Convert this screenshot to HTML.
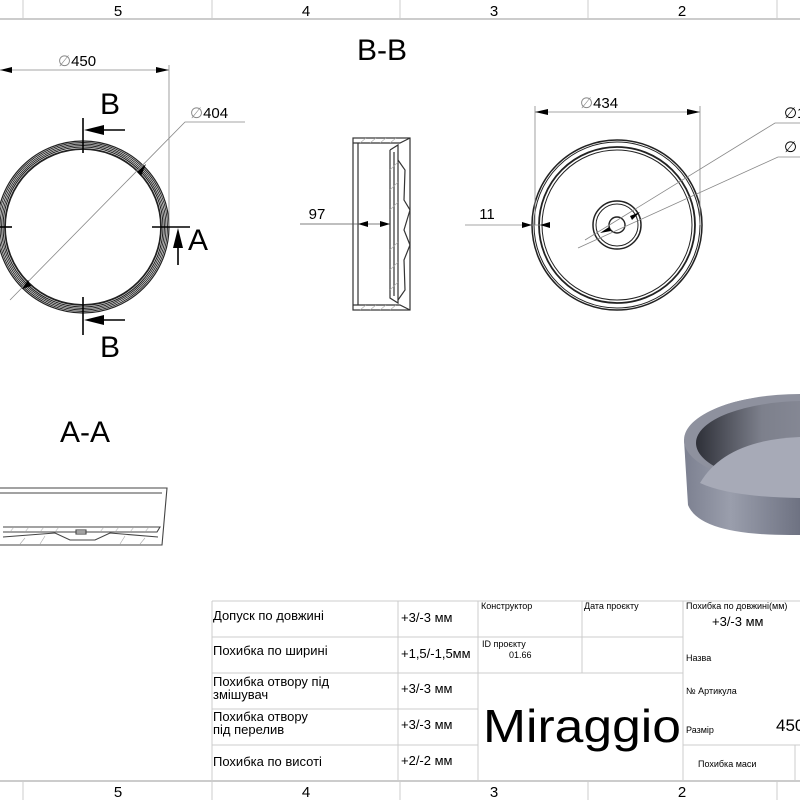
<!DOCTYPE html>
<html><head><meta charset="utf-8"><style>
html,body{margin:0;padding:0;background:#fff}
svg{display:block}
text{font-family:"Liberation Sans",sans-serif;fill:#000}
</style></head><body>
<svg width="800" height="800" viewBox="0 0 800 800" xmlns="http://www.w3.org/2000/svg">
<defs>
<linearGradient id="body" x1="0" x2="1" y1="0" y2="0">
<stop offset="0" stop-color="#7c8090"/><stop offset="0.4" stop-color="#9a9eac"/><stop offset="1" stop-color="#6e7282"/>
</linearGradient>
<linearGradient id="inner" x1="0" x2="1"><stop offset="0" stop-color="#2e3038"/><stop offset="0.3" stop-color="#7d808c"/><stop offset="1" stop-color="#9a9dab"/></linearGradient>
</defs>
<g stroke="#bbb" stroke-width="1.5" fill="none">
<line x1="0" y1="19" x2="800" y2="19"/>
<line x1="0" y1="781" x2="800" y2="781"/>
</g>
<g stroke="#ccc" stroke-width="1">
<line x1="23" y1="0" x2="23" y2="19"/><line x1="212" y1="0" x2="212" y2="19"/><line x1="400" y1="0" x2="400" y2="19"/><line x1="588" y1="0" x2="588" y2="19"/><line x1="777" y1="0" x2="777" y2="19"/>
<line x1="23" y1="781" x2="23" y2="800"/><line x1="212" y1="781" x2="212" y2="800"/><line x1="400" y1="781" x2="400" y2="800"/><line x1="588" y1="781" x2="588" y2="800"/><line x1="777" y1="781" x2="777" y2="800"/>
</g>
<g font-size="15" text-anchor="middle">
<text x="118" y="16">5</text><text x="306" y="16">4</text><text x="494" y="16">3</text><text x="682" y="16">2</text>
<text x="118" y="797">5</text><text x="306" y="797">4</text><text x="494" y="797">3</text><text x="682" y="797">2</text>
</g>

<!-- LEFT TOP VIEW -->
<g fill="none" stroke="#222">
<circle cx="83" cy="227" r="86" stroke-width="1.2"/>
<circle cx="83" cy="227" r="84.5" stroke-width="0.9"/>
<circle cx="83" cy="227" r="83" stroke-width="0.9"/>
<circle cx="83" cy="227" r="81.5" stroke-width="0.9"/>
<circle cx="83" cy="227" r="80" stroke-width="1.1"/>
<circle cx="83" cy="227" r="78" stroke-width="1.8"/>
</g>
<g stroke="#888" stroke-width="0.8" fill="none">
<line x1="0" y1="70" x2="169" y2="70"/>
<line x1="169" y1="65" x2="169" y2="227"/>
<polyline points="10,300 185,122 245,122"/>
</g>
<polygon points="169,70 156,67 156,73" fill="#000"/>
<polygon points="0,70 12,67 12,73" fill="#000"/>
<polygon points="22,289 28,280 31,286" fill="#000"/>
<polygon points="146,164 137,172 141,176" fill="#000"/>
<text x="58" y="66" font-size="15"><tspan fill="#888">∅</tspan>450</text>
<text x="190" y="118" font-size="15"><tspan fill="#888">∅</tspan>404</text>
<g stroke="#000" stroke-width="1.6">
<line x1="83" y1="118" x2="83" y2="153"/><line x1="83" y1="297" x2="83" y2="335"/>
<line x1="88" y1="130" x2="125" y2="130"/><line x1="88" y1="320" x2="125" y2="320"/>
<line x1="152" y1="227" x2="190" y2="227"/><line x1="178" y1="232" x2="178" y2="265"/>
<line x1="0" y1="227" x2="12" y2="227"/>
</g>
<polygon points="84,130 104,125 104,135" fill="#000"/>
<polygon points="84,320 104,315 104,325" fill="#000"/>
<polygon points="178,228 173,248 183,248" fill="#000"/>
<text x="110" y="114" font-size="30" text-anchor="middle">B</text>
<text x="110" y="357" font-size="30" text-anchor="middle">B</text>
<text x="198" y="250" font-size="30" text-anchor="middle">A</text>

<!-- B-B section -->
<text x="382" y="60" font-size="30" text-anchor="middle">B-B</text>
<g fill="none" stroke="#333" stroke-width="1.2">
<rect x="353" y="138" width="57" height="172"/>
<line x1="358" y1="143" x2="358" y2="305"/>
<polyline points="353,143 400,143 410,138"/>
<polyline points="353,305 400,305 410,310"/>
<polyline points="390,150 398,145 398,303 390,298 390,150"/>
<polyline points="398,160 405,170 404,200 410,210 404,230 410,245 404,260 405,290 398,300"/>
<line x1="394" y1="152" x2="394" y2="296"/>
</g>
<g stroke="#aaa" stroke-width="0.6">
<line x1="360" y1="143" x2="366" y2="138"/><line x1="370" y1="143" x2="376" y2="138"/><line x1="380" y1="143" x2="386" y2="138"/><line x1="390" y1="143" x2="396" y2="138"/>
<line x1="360" y1="310" x2="366" y2="305"/><line x1="370" y1="310" x2="376" y2="305"/><line x1="380" y1="310" x2="386" y2="305"/><line x1="390" y1="310" x2="396" y2="305"/>
<line x1="390" y1="170" x2="398" y2="162"/><line x1="390" y1="190" x2="398" y2="182"/><line x1="390" y1="210" x2="398" y2="202"/><line x1="390" y1="250" x2="398" y2="242"/><line x1="390" y1="270" x2="398" y2="262"/><line x1="390" y1="290" x2="398" y2="282"/>
</g>
<line x1="300" y1="224" x2="390" y2="224" stroke="#555" stroke-width="0.8"/>
<polygon points="358,224 368,221 368,227" fill="#000"/>
<polygon points="390,224 380,221 380,227" fill="#000"/>
<text x="317" y="219" font-size="15" text-anchor="middle">97</text>

<!-- RIGHT TOP VIEW -->
<g fill="none" stroke="#222">
<circle cx="617" cy="225" r="85" stroke-width="1.5"/>
<circle cx="617" cy="225" r="83" stroke-width="1"/>
<circle cx="617" cy="225" r="78" stroke-width="1.8"/>
<circle cx="617" cy="225" r="75" stroke-width="1"/>
<circle cx="617" cy="225" r="24" stroke-width="1.5"/>
<circle cx="617" cy="225" r="21" stroke-width="1"/>
<circle cx="617" cy="225" r="8" stroke-width="1.4"/>
</g>
<g stroke="#888" stroke-width="0.8" fill="none">
<line x1="535" y1="112" x2="700" y2="112"/>
<line x1="535" y1="106" x2="535" y2="225"/>
<line x1="700" y1="106" x2="700" y2="225"/>
<polyline points="585,240 775,123 800,123"/>
<polyline points="578,248 778,157 800,157"/>
<line x1="465" y1="225" x2="550" y2="225"/>
</g>
<polygon points="535,112 548,109 548,115" fill="#000"/>
<polygon points="700,112 687,109 687,115" fill="#000"/>
<polygon points="532,225 522,222 522,228" fill="#000"/>
<polygon points="540,225 550,222 550,228" fill="#000"/>
<polygon points="640,212 630,216 632,220" fill="#000"/>
<polygon points="600,233 609,227 611,231" fill="#000"/>
<text x="580" y="108" font-size="15"><tspan fill="#888">∅</tspan>434</text>
<text x="784" y="118" font-size="15" fill="#888">∅1</text>
<text x="784" y="152" font-size="15" fill="#888">∅</text>
<text x="487" y="219" font-size="15" text-anchor="middle">11</text>

<!-- A-A section -->
<text x="85" y="442" font-size="30" text-anchor="middle">A-A</text>
<g fill="none" stroke="#444" stroke-width="1.1">
<polyline points="0,488 167,488 162,545 0,545"/>
<line x1="0" y1="493" x2="162" y2="493"/>
<polyline points="3,527 160,527 157,532 3,532"/>
<polyline points="3,537 55,533 70,540 95,540 110,533 158,537"/>
<rect x="76" y="530" width="10" height="4"/>
</g>
<g stroke="#aaa" stroke-width="0.6">
<line x1="10" y1="532" x2="14" y2="527"/><line x1="25" y1="532" x2="29" y2="527"/><line x1="40" y1="532" x2="44" y2="527"/><line x1="55" y1="532" x2="59" y2="527"/><line x1="100" y1="532" x2="104" y2="527"/><line x1="115" y1="532" x2="119" y2="527"/><line x1="130" y1="532" x2="134" y2="527"/><line x1="145" y1="532" x2="149" y2="527"/>
<line x1="20" y1="544" x2="25" y2="538"/><line x1="40" y1="544" x2="45" y2="536"/><line x1="120" y1="544" x2="125" y2="536"/><line x1="140" y1="544" x2="145" y2="538"/>
</g>

<!-- 3D bowl -->
<path d="M684,440 L688,505 Q700,535 790,535 L800,535 L800,395 Q700,395 684,440 Z" fill="url(#body)"/>
<ellipse cx="800" cy="440" rx="116" ry="46" fill="#8e919e"/>
<ellipse cx="806" cy="443" rx="110" ry="42" fill="url(#inner)"/>
<path d="M700,483 Q725,440 800,437 L800,498 Q730,497 700,483 Z" fill="#a7aab7"/>

<!-- TABLE -->
<g stroke="#ccc" stroke-width="1" fill="none">
<line x1="212" y1="601" x2="800" y2="601"/>
<line x1="212" y1="637" x2="683" y2="637"/>
<line x1="212" y1="673" x2="683" y2="673"/>
<line x1="212" y1="709" x2="478" y2="709"/>
<line x1="212" y1="745" x2="478" y2="745"/>
<line x1="683" y1="745" x2="800" y2="745"/>
<line x1="212" y1="601" x2="212" y2="781"/>
<line x1="398" y1="601" x2="398" y2="781"/>
<line x1="478" y1="601" x2="478" y2="781"/>
<line x1="582" y1="601" x2="582" y2="673"/>
<line x1="683" y1="601" x2="683" y2="781"/>
<line x1="795" y1="745" x2="795" y2="781"/>
</g>
<g font-size="13">
<text x="213" y="620">Допуск по довжині</text>
<text x="213" y="655">Похибка по ширині</text>
<text x="213" y="686">Похибка отвору під</text>
<text x="213" y="699">змішувач</text>
<text x="213" y="721">Похибка отвору</text>
<text x="213" y="734">під перелив</text>
<text x="213" y="766">Похибка по висоті</text>
<text x="401" y="622">+3/-3 мм</text>
<text x="401" y="658">+1,5/-1,5мм</text>
<text x="401" y="693">+3/-3 мм</text>
<text x="401" y="729">+3/-3 мм</text>
<text x="401" y="765">+2/-2 мм</text>
</g>
<g font-size="9">
<text x="481" y="609">Конструктор</text>
<text x="584" y="609">Дата проєкту</text>
<text x="482" y="647">ID проєкту</text>
<text x="509" y="658">01.66</text>
<text x="686" y="609">Похибка по довжині(мм)</text>
<text x="686" y="661">Назва</text>
<text x="686" y="694">№ Артикула</text>
<text x="686" y="733">Размір</text>
<text x="698" y="767">Похибка маси</text>
</g>
<text x="712" y="626" font-size="13">+3/-3 мм</text>
<text x="776" y="731" font-size="17">450</text>
<text x="483" y="742" font-size="46" textLength="198" lengthAdjust="spacingAndGlyphs">Miraggio</text>
</svg>
</body></html>
